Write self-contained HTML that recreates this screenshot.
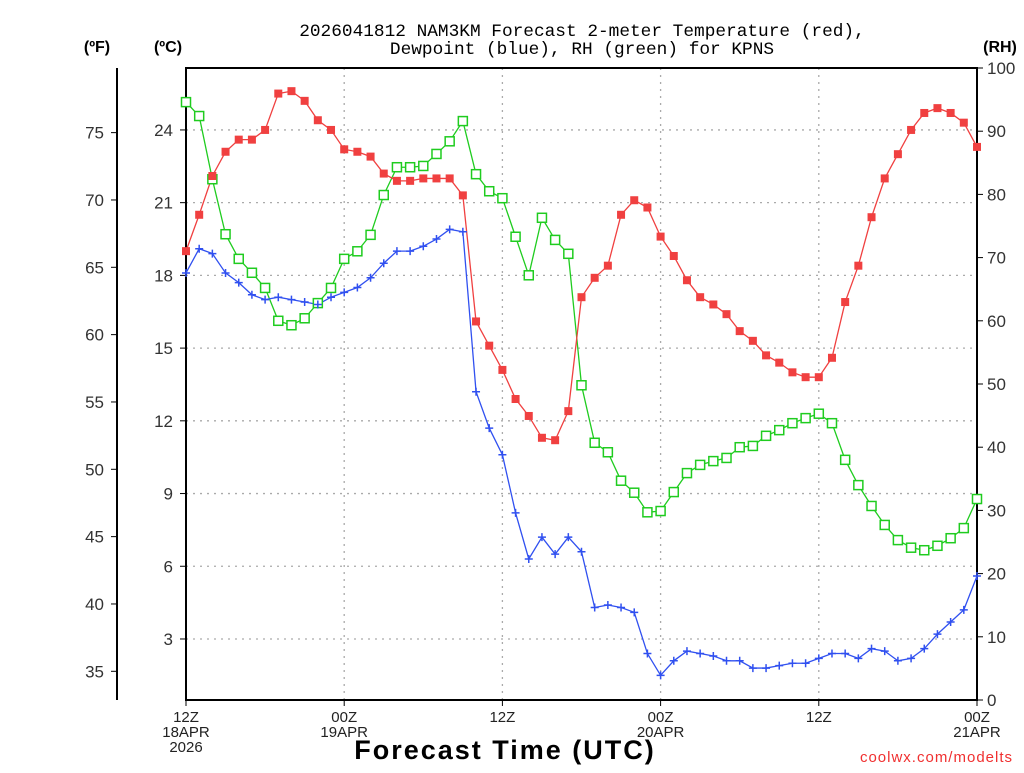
<!DOCTYPE html>
<html><head><meta charset="utf-8"><style>
body{margin:0;background:#fff}
svg text{font-family:"Liberation Sans",sans-serif}
</style></head><body>
<svg id="chart" width="1024" height="768" viewBox="0 0 1024 768" xmlns="http://www.w3.org/2000/svg">
<rect width="1024" height="768" fill="#fff"/>
<text x="582" y="36" text-anchor="middle" font-size="17.8" fill="#000" style="font-family:'Liberation Mono',monospace">2026041812 NAM3KM Forecast 2-meter Temperature (red),</text>
<text x="582" y="54" text-anchor="middle" font-size="17.8" fill="#000" style="font-family:'Liberation Mono',monospace">Dewpoint (blue), RH (green) for KPNS</text>
<text x="97" y="52" text-anchor="middle" font-size="16" font-weight="bold">(ºF)</text>
<text x="168" y="52" text-anchor="middle" font-size="16" font-weight="bold">(ºC)</text>
<text x="1000" y="52" text-anchor="middle" font-size="16" font-weight="bold">(RH)</text>
<text x="505" y="759" text-anchor="middle" font-size="27" font-weight="bold" letter-spacing="2">Forecast Time (UTC)</text>
<text x="1013" y="762" text-anchor="end" font-size="15" fill="#f03030" letter-spacing="1">coolwx.com/modelts</text>
<g id="grid"></g><g id="axes"></g><g id="series"></g>
</svg>
<script>
const hours = Array.from({length:61},(_,i)=>i);
const tempC = [19.0,20.5,22.1,23.1,23.6,23.6,24.0,25.5,25.6,25.2,24.4,24.0,23.2,23.1,22.9,22.2,21.9,21.9,22.0,22.0,22.0,21.3,16.1,15.1,14.1,12.9,12.2,11.3,11.2,12.4,17.1,17.9,18.4,20.5,21.1,20.8,19.6,18.8,17.8,17.1,16.8,16.4,15.7,15.3,14.7,14.4,14.0,13.8,13.8,14.6,16.9,18.4,20.4,22.0,23.0,24.0,24.7,24.9,24.7,24.3,23.3];
const dewC = [18.1,19.1,18.9,18.1,17.7,17.2,17.0,17.1,17.0,16.9,16.8,17.1,17.3,17.5,17.9,18.5,19.0,19.0,19.2,19.5,19.9,19.8,13.2,11.7,10.6,8.2,6.3,7.2,6.5,7.2,6.6,4.3,4.4,4.3,4.1,2.4,1.5,2.1,2.5,2.4,2.3,2.1,2.1,1.8,1.8,1.9,2.0,2.0,2.2,2.4,2.4,2.2,2.6,2.5,2.1,2.2,2.6,3.2,3.7,4.2,5.6];
const rh = [94.6,92.4,82.4,73.7,69.8,67.6,65.2,60.0,59.3,60.4,62.8,65.2,69.8,71.0,73.6,79.9,84.3,84.3,84.5,86.4,88.4,91.6,83.2,80.5,79.4,73.3,67.2,76.3,72.8,70.6,49.8,40.7,39.2,34.7,32.8,29.7,29.9,32.9,35.9,37.2,37.8,38.3,40.0,40.2,41.8,42.7,43.8,44.6,45.3,43.8,38.0,34.0,30.7,27.7,25.3,24.1,23.7,24.4,25.6,27.2,31.8];
const cTicks = [3,6,9,12,15,18,21,24];
const fTicks = [35,40,45,50,55,60,65,70,75];
const rhTicks = [0,10,20,30,40,50,60,70,80,90,100];
const xTickHours = [0,12,24,36,48,60];
const xTickLine1 = ["12Z","00Z","12Z","00Z","12Z","00Z"];
const xTickLine2 = ["18APR","19APR","","20APR","","21APR"];
const xTickLine3 = ["2026","","","","",""];

const NS="http://www.w3.org/2000/svg";
const L=186,R=977,T=68,B=700;
const x=h=>L+(R-L)*h/60;
const yC=c=>711.7-24.24*c;
const yF=f=>yC((f-32)*5/9);
const yRH=r=>B-(B-T)*r/100;
function mk(tag,attrs,parent,txt){const e=document.createElementNS(NS,tag);for(const k in attrs)e.setAttribute(k,attrs[k]);if(txt!==undefined)e.textContent=txt;document.getElementById(parent).appendChild(e);return e;}
cTicks.forEach(c=>{const e=mk('line',{x1:L,x2:R,y1:yC(c),y2:yC(c),stroke:'#aaa','stroke-width':1.3,'stroke-dasharray':'2,5'},'grid');

});
xTickHours.slice(1,5).forEach(h=>{const e=mk('line',{x1:x(h),x2:x(h),y1:T,y2:B,stroke:'#aaa','stroke-width':1.3,'stroke-dasharray':'2,5'},'grid');

});
let f=mk('rect',{x:L,y:T,width:R-L,height:B-T,fill:'none',stroke:'#000','stroke-width':2},'axes');


let fa=mk('line',{x1:117,x2:117,y1:T,y2:B,stroke:'#000','stroke-width':2},'axes');


cTicks.forEach(c=>{mk('line',{x1:L-6,x2:L,y1:yC(c),y2:yC(c),stroke:'#000'},'axes');
const t=mk('text',{x:L-13,y:yC(c)+6,'text-anchor':'end','font-size':17,fill:'#333'},'axes',c);

});
fTicks.forEach(v=>{mk('line',{x1:111,x2:117,y1:yF(v),y2:yF(v),stroke:'#000'},'axes');
const t=mk('text',{x:104,y:yF(v)+6,'text-anchor':'end','font-size':17,fill:'#333'},'axes',v);

});
rhTicks.forEach(v=>{mk('line',{x1:R,x2:R+6,y1:yRH(v),y2:yRH(v),stroke:'#000'},'axes');
const t=mk('text',{x:R+10,y:yRH(v)+6,'text-anchor':'start','font-size':17,fill:'#333'},'axes',v);

});
xTickHours.forEach((h,i)=>{mk('line',{x1:x(h),x2:x(h),y1:B,y2:B+6,stroke:'#000'},'axes');
[xTickLine1[i],xTickLine2[i],xTickLine3[i]].forEach((s,j)=>{if(!s)return;
const t=mk('text',{x:x(h),y:722+j*15,'text-anchor':'middle','font-size':15,fill:'#222'},'axes',s);

});});
function line(vals,yf,color,name){const p=mk('polyline',{points:vals.map((v,i)=>x(hours[i])+','+yf(v)).join(' '),fill:'none',stroke:color,'stroke-width':1.3},'series');

}
line(rh,yRH,'#1fcc1f','rh-line');
line(tempC,yC,'#f04040','temperature-line');
line(dewC,yC,'#3050f0','dewpoint-line');
rh.forEach((v,i)=>{const m=mk('rect',{x:x(hours[i])-4.5,y:yRH(v)-4.5,width:9,height:9,fill:'#fff',stroke:'#1fcc1f','stroke-width':1.5},'series');

});
tempC.forEach((v,i)=>{const m=mk('rect',{x:x(hours[i])-4,y:yC(v)-4,width:8,height:8,fill:'#f04040'},'series');

});
dewC.forEach((v,i)=>{const cx=x(hours[i]),cy=yC(v);const m=mk('path',{d:`M${cx-4},${cy}H${cx+4}M${cx},${cy-4}V${cy+4}`,stroke:'#3050f0','stroke-width':1.5},'series');

});
</script>
</body></html>
